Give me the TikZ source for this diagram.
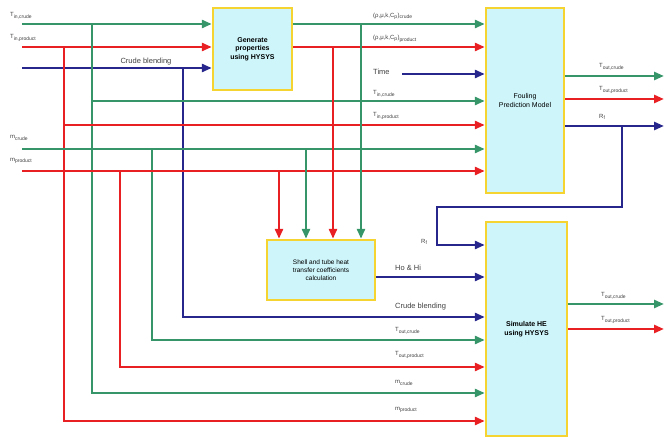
\documentclass[tikz,border=0pt]{standalone}
\usepackage{fontspec}
\setmainfont{Liberation Sans}
\usetikzlibrary{arrows.meta}
\definecolor{cgreen}{RGB}{55,150,105}
\definecolor{cred}{RGB}{232,32,36}
\definecolor{cblue}{RGB}{38,38,140}
\definecolor{boxfill}{RGB}{205,245,250}
\definecolor{boxline}{RGB}{245,212,50}
\tikzset{
  blk/.style={draw=boxline,fill=boxfill,line width=2.4pt,align=center,inner sep=2pt,font=\fontsize{7}{8.5}\selectfont},
  wire/.style={line width=2.5pt},
  arr/.style={wire,-{Triangle[length=10pt,width=8pt]}},
  gw/.style={color=cgreen},
  rw/.style={color=cred},
  bw/.style={color=cblue},
  lbl/.style={font=\fontsize{6}{7}\selectfont,color=black!75,inner sep=0pt,anchor=west},
  lblb/.style={font=\fontsize{7.5}{8}\selectfont,color=black!75,inner sep=0pt,anchor=west},
}
\newcommand{\sbs}[1]{\textsubscript{#1}}
\begin{document}
\begin{tikzpicture}[x=1pt,y=-1pt]
\useasboundingbox (0,0) rectangle (665,438);
% boxes
\node[blk,minimum width=79pt,minimum height=82pt,font=\bfseries\fontsize{7}{8.5}\selectfont] (gen) at (252.5,49) {Generate\\properties\\using HYSYS};
\node[blk,minimum width=78pt,minimum height=185pt] (foul) at (525,100.5) {Fouling\\Prediction Model};
\node[blk,minimum width=108pt,minimum height=60pt,font=\fontsize{6.5}{8}\selectfont] (shell) at (321,270) {Shell and tube heat\\transfer coefficients\\calculation};
\node[blk,minimum width=81pt,minimum height=214pt,font=\bfseries\fontsize{7}{8.5}\selectfont] (sim) at (526.5,329) {Simulate HE\\using HYSYS};
% coordinates
\coordinate (tic) at (22,24);
\coordinate (tip) at (22,47);
\coordinate (cb) at (22,68);
\coordinate (mc) at (22,149);
\coordinate (mp) at (22,171);
\coordinate (time) at (402,74);
\coordinate (o1) at (664,76);
\coordinate (o2) at (664,99);
\coordinate (o3) at (664,126);
\coordinate (o4) at (664,304);
\coordinate (o5) at (664,329);
% left inputs to gen
\draw[arr,gw] (tic) -- (tic -| gen.west);
\draw[arr,rw] (tip) -- (tip -| gen.west);
\draw[arr,bw] (cb) -- (cb -| gen.west);
% long verticals
\draw[arr,rw] (64,47) -- (64,421) -- (sim.west |- 0,421);
\draw[arr,gw] (92,24) -- (92,393) -- (sim.west |- 0,393);
\draw[arr,rw] (120,171) -- (120,367) -- (sim.west |- 0,367);
\draw[arr,gw] (152,149) -- (152,340) -- (sim.west |- 0,340);
\draw[arr,bw] (183,68) -- (183,317) -- (sim.west |- 0,317);
% horizontals to fouling
\draw[arr,gw] (92,101) -- (foul.west |- 0,101);
\draw[arr,rw] (64,125) -- (foul.west |- 0,125);
\draw[arr,gw] (mc) -- (mc -| foul.west);
\draw[arr,rw] (mp) -- (mp -| foul.west);
% gen outputs
\draw[arr,gw] (gen.east |- 0,24) -- (foul.west |- 0,24);
\draw[arr,rw] (gen.east |- 0,47) -- (foul.west |- 0,47);
\draw[arr,bw] (time) -- (time -| foul.west);
% verticals into shell
\draw[arr,rw] (279,171) -- (shell.north -| 279,0);
\draw[arr,gw] (306,149) -- (shell.north -| 306,0);
\draw[arr,rw] (333,47) -- (shell.north -| 333,0);
\draw[arr,gw] (361,24) -- (shell.north -| 361,0);
% shell to sim
\draw[arr,bw] (shell.east |- 0,277) -- (sim.west |- 0,277);
% fouling outputs
\draw[arr,gw] (foul.east |- o1) -- (o1);
\draw[arr,rw] (foul.east |- o2) -- (o2);
\draw[arr,bw] (foul.east |- o3) -- (o3);
\draw[arr,bw] (622,126) -- (622,207) -- (437,207) -- (437,245) -- (sim.west |- 0,245);
% sim outputs
\draw[arr,gw] (sim.east |- o4) -- (o4);
\draw[arr,rw] (sim.east |- o5) -- (o5);
% labels
\node[lbl] (l1) at (10,16) {T\sbs{in,crude}};
\node[lbl] (l2) at (10,38) {T\sbs{in,product}};
\node[lblb,anchor=center] (l3) at (146,62) {Crude blending};
\node[lbl] (l4) at (10,138) {m\sbs{crude}};
\node[lbl] (l5) at (10,161) {m\sbs{product}};
\node[lbl] (l6) at (373,16) {(ρ,μ,k,C\sbs{p})\sbs{crude}};
\node[lbl] (l7) at (373,39) {(ρ,μ,k,C\sbs{p})\sbs{product}};
\node[lblb] (l8) at (373,72) {Time};
\node[lbl] (l9) at (373,94) {T\sbs{in,crude}};
\node[lbl] (l10) at (373,116) {T\sbs{in,product}};
\node[lbl] (l11) at (599,67) {T\sbs{out,crude}};
\node[lbl] (l12) at (599,90) {T\sbs{out,product}};
\node[lbl] (l13) at (599,117) {R\sbs{f}};
\node[lbl] (l14) at (421,242) {R\sbs{f}};
\node[lblb] (l15) at (395,268) {Ho \& Hi};
\node[lblb] (l16) at (395,307) {Crude blending};
\node[lbl] (l17) at (395,331) {T\sbs{out,crude}};
\node[lbl] (l18) at (395,355) {T\sbs{out,product}};
\node[lbl] (l19) at (395,383) {m\sbs{crude}};
\node[lbl] (l20) at (395,410) {m\sbs{product}};
\node[lbl] (l21) at (601,296) {T\sbs{out,crude}};
\node[lbl] (l22) at (601,320) {T\sbs{out,product}};
\end{tikzpicture}
\end{document}
